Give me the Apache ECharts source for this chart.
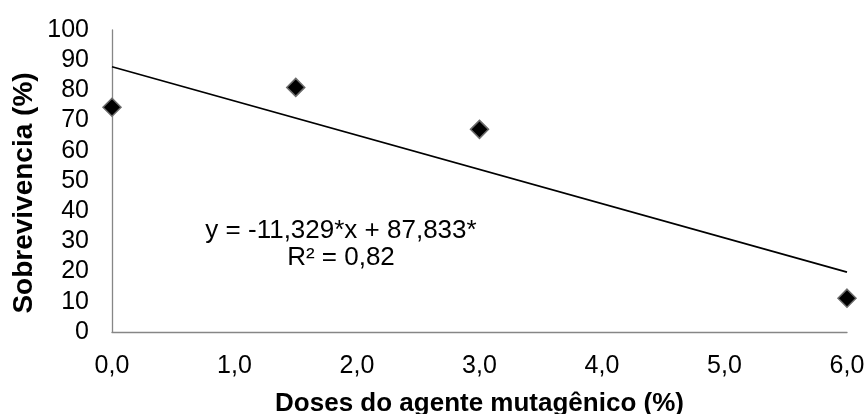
<!DOCTYPE html>
<html>
<head>
<meta charset="utf-8">
<script src="https://cdn.jsdelivr.net/npm/echarts@6/dist/echarts.min.js"></script>
<style>
html,body{margin:0;padding:0;background:#fff;}
#c{width:866px;height:414px;}
</style>
</head>
<body>
<div id="c"></div>
<script>
// Data
const doses = [0, 1.5, 3, 6];
const survival = [74.4, 81.0, 67.1, 11.2];
const trendX = [0, 6];
const trendY = [87.833, 19.859];
const xTicks = [0, 1, 2, 3, 4, 5, 6];
const yTicks = [0, 10, 20, 30, 40, 50, 60, 70, 80, 90, 100];
const equationLines = ['y = -11,329*x + 87,833*', 'R² = 0,82'];
const xTitle = 'Doses do agente mutagênico (%)';
const yTitle = 'Sobrevivencia (%)';

const FONT = '"Liberation Sans", Arial, sans-serif';
const chart = echarts.init(document.getElementById('c'), null, {renderer: 'canvas'});

const points = doses.map((d, i) => [d, survival[i]]);
const trend = trendX.map((x, i) => [x, trendY[i]]);

chart.setOption({
  animation: false,
  backgroundColor: '#fff',
  grid: {left: 112, right: 19, top: 30, bottom: 82, containLabel: false, outerBoundsMode: 'none'},
  xAxis: {
    type: 'value',
    min: xTicks[0], max: xTicks[xTicks.length - 1], interval: 1,
    axisLine: {show: true, lineStyle: {color: '#868686', width: 1.3}},
    axisTick: {show: false},
    splitLine: {show: false},
    axisLabel: {
      margin: 22,
      color: '#000', fontSize: 25, fontFamily: FONT,
      formatter: v => v.toFixed(1).replace('.', ',')
    },
    name: xTitle,
    nameLocation: 'middle',
    nameGap: 59,
    nameTextStyle: {color: '#000', fontSize: 26, fontWeight: 'bold', fontFamily: FONT}
  },
  yAxis: {
    type: 'value',
    min: yTicks[0], max: yTicks[yTicks.length - 1], interval: 10,
    axisLine: {show: true, onZero: false, lineStyle: {color: '#868686', width: 1.3}},
    axisTick: {show: false},
    splitLine: {show: false},
    axisLabel: {
      margin: 23,
      color: '#000', fontSize: 25, fontFamily: FONT
    }
  },
  graphic: [
    {
      type: 'text',
      x: 24, y: 193,
      rotation: Math.PI / 2,
      style: {
        text: yTitle,
        fill: '#000',
        font: 'bold 28px ' + FONT,
        align: 'center',
        verticalAlign: 'middle'
      }
    },
    {
      type: 'text',
      x: 341, y: 244,
      style: {
        text: equationLines.join('\n'),
        fill: '#000',
        font: '26px ' + FONT,
        lineHeight: 27,
        align: 'center',
        verticalAlign: 'middle'
      }
    }
  ],
  series: [
    {
      type: 'line',
      data: trend,
      symbol: 'none',
      lineStyle: {color: '#000', width: 1.8},
      z: 2,
      silent: true
    },
    {
      type: 'scatter',
      data: points,
      symbol: 'diamond',
      symbolSize: 18,
      itemStyle: {color: '#000', borderColor: '#6b6b6b', borderWidth: 1.5, opacity: 1},
      z: 3
    }
  ]
});
</script>
</body>
</html>
